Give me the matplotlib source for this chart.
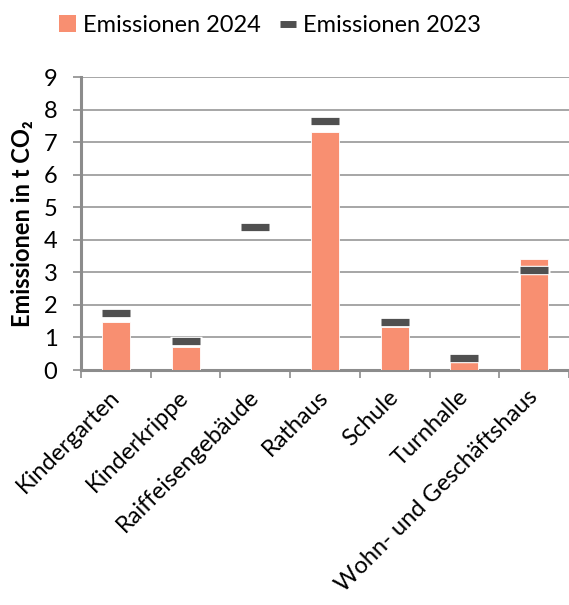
import matplotlib
matplotlib.use("Agg")
import matplotlib.pyplot as plt
from matplotlib.lines import Line2D
from matplotlib.patches import Patch

plt.rcParams['font.family'] = ['Lato', 'DejaVu Sans']

categories = ["Kindergarten", "Kinderkrippe", "Raiffeisengebäude", "Rathaus",
              "Schule", "Turnhalle", "Wohn- und Geschäftshaus"]
emissions_2024 = [1.47, 0.70, 0.0, 7.31, 1.33, 0.28, 3.42]
emissions_2023 = [1.75, 0.88, 4.41, 7.66, 1.48, 0.38, 3.08]
y_ticks = [0, 1, 2, 3, 4, 5, 6, 7, 8, 9]

bar_color = "#F88F71"
dash_color = "#505050"
grid_color = "#A6A6A6"
axis_color = "#8C8C8C"
fs = 17

fig = plt.figure(figsize=(5.69, 6.05), dpi=100)
ax = fig.add_axes([0.1424, 0.3884, 0.8576, 0.4838])

x = list(range(len(categories)))
ax.bar(x, emissions_2024, width=0.4, color=bar_color, edgecolor="white",
       linewidth=0.6, zorder=3)

# 2023 values as dash markers with a white halo
ax.plot(x, emissions_2023, linestyle="none", marker="_", markersize=22.5,
        markeredgewidth=6.8, color="white", zorder=4)
ax.plot(x, emissions_2023, linestyle="none", marker="_", markersize=20.5,
        markeredgewidth=5.2, color=dash_color, zorder=5)

ax.set_xlim(-0.5, len(categories) - 0.5)
ax.set_ylim(0, 9)
ax.set_yticks(y_ticks)
ax.set_yticklabels([str(t) for t in y_ticks], fontsize=fs)
ax.yaxis.grid(True, color=grid_color, linewidth=1.4, zorder=0)
ax.set_axisbelow(True)

# category ticks sit between bars, labels at bar centres
ax.set_xticks([i - 0.5 for i in x] + [len(categories) - 0.5])
ax.set_xticklabels([])
ax.set_xticks(x, minor=True)
ax.set_xticklabels(categories, minor=True, rotation=45, ha="right",
                   va="center", rotation_mode="anchor", fontsize=fs)
ax.tick_params(axis="x", which="minor", length=0, pad=17)
ax.tick_params(axis="x", which="major", length=6, width=1.2, color=axis_color,
               direction="out")
ax.tick_params(axis="y", length=6, width=1.2, color=axis_color, pad=11)

for side in ("top", "right"):
    ax.spines[side].set_visible(False)
for side in ("left", "bottom"):
    ax.spines[side].set_color(axis_color)
    ax.spines[side].set_linewidth(2.2)

ax.set_ylabel("Emissionen in t CO₂", fontsize=fs, fontweight="bold", labelpad=7)

handles = [Patch(facecolor=bar_color, edgecolor="none"),
           Line2D([], [], color=dash_color, linewidth=5, solid_capstyle="butt")]
fig.legend(handles, ["Emissionen 2024", "Emissionen 2023"], loc="center",
           bbox_to_anchor=(0.475, 0.958), ncol=2, frameon=False, fontsize=fs,
           handlelength=0.7, handleheight=0.7, handletextpad=0.3,
           columnspacing=0.8)

fig.savefig("out.png", dpi=100, facecolor="white")
